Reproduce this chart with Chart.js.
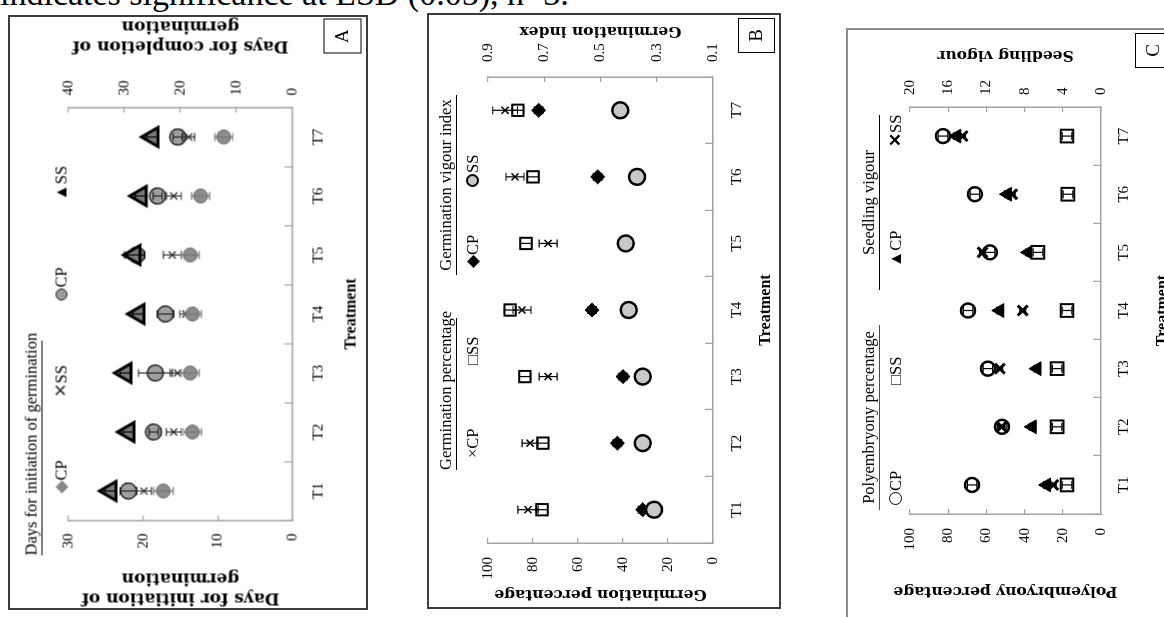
<!DOCTYPE html>
<html>
<head>
<meta charset="utf-8">
<script src="https://cdn.jsdelivr.net/npm/chart.js@4.4.1/dist/chart.umd.min.js"></script>
<style>
  html, body { margin: 0; padding: 0; background: #fff; overflow: hidden; }
  body { width: 1164px; height: 617px; position: relative; font-family: "Liberation Serif", serif; color: #000; }
  .note { position: absolute; left: 0; top: -23px; font-size: 34px; line-height: 34px; white-space: nowrap; }
  .panel { position: absolute; }
  .frame { position: absolute; left: 0; top: 0; right: 0; bottom: 0; border: 2px solid #3c3c3c; box-sizing: border-box; }
  .inner { position: absolute; transform: rotate(-90deg); }
  .inner canvas { position: absolute; left: 0; top: 0; }
  .grp { position: absolute; font-size: 16.5px; line-height: 20px; height: 20px; text-align: center; border-bottom: 1px solid #000; white-space: nowrap; }
  .key { position: absolute; font-size: 16.5px; line-height: 20px; white-space: nowrap; }
  .dot { display: inline-block; border-radius: 50%; box-sizing: border-box; vertical-align: -1px; margin-right: 1px; }
  .tag { position: absolute; border: 1.5px solid #000; box-sizing: border-box; font-size: 19px; text-align: center; line-height: 34px; }
</style>
</head>
<body>
<div class="note">indicates significance at LSD (0.05), n=3.</div>

<div class="panel" style="left:8px;top:15px;width:360px;height:595px;background:#fff">
  <div class="inner" style="width:595px;height:360px;left:-117.5px;top:117.5px">
    <canvas id="chartA" width="595" height="360"></canvas>
    <div class="grp" style="left:55px;top:13px;width:215px">Days for initiation of germination</div>
    <div class="key" style="left:117px;top:43px"><span style="color:#888">◆</span>CP</div>
    <div class="key" style="left:213px;top:43px"><span style="color:#333">✕</span>SS</div>
    <div class="key" style="left:310px;top:43px"><span class="dot" style="width:12px;height:12px;border:1.5px solid #222;background:#9a9a9a"></span>CP</div>
    <div class="key" style="left:410px;top:43px">▲SS</div>
    <div class="tag" style="left:557px;top:315px;width:35px;height:38px">A</div>
  </div>
  <div class="frame"></div>
</div>

<div class="panel" style="left:427px;top:13px;width:354px;height:596px;background:#fff">
  <div class="inner" style="width:596px;height:354px;left:-121px;top:121px">
    <canvas id="chartB" width="596" height="354"></canvas>
    <div class="grp" style="left:139px;top:9px;width:152px">Germination percentage</div>
    <div class="grp" style="left:334px;top:9px;width:180px">Germination vigour index</div>
    <div class="key" style="left:151px;top:36px">×CP</div>
    <div class="key" style="left:244px;top:36px">□SS</div>
    <div class="key" style="left:341px;top:36px">◆CP</div>
    <div class="key" style="left:422px;top:36px"><span class="dot" style="width:13px;height:13px;border:2px solid #000;background:#c8c8c8"></span>SS</div>
    <div class="tag" style="left:556px;top:311px;width:35px;height:37px">B</div>
  </div>
  <div class="frame"></div>
</div>

<div class="panel" style="left:846px;top:28px;width:339px;height:597px">
  <div class="inner" style="width:597px;height:339px;left:-129px;top:129px">
    <canvas id="chartC" width="597" height="339"></canvas>
    <div class="grp" style="left:115px;top:13px;width:185px;border-bottom-color:#b02020">Polyembryony percentage</div>
    <div class="grp" style="left:335px;top:13px;width:175px">Seedling vigour</div>
    <div class="key" style="left:120px;top:40px"><span class="dot" style="width:13px;height:13px;border:1.5px solid #000;background:#fff"></span>CP</div>
    <div class="key" style="left:240px;top:40px">□SS</div>
    <div class="key" style="left:358px;top:40px">▲CP</div>
    <div class="key" style="left:478px;top:40px"><b>✕</b>SS</div>
    <div class="tag" style="left:557px;top:289px;width:35px;height:38px">C</div>
  </div>
  <div class="frame" style="border-color:#8c8c8c"></div>
</div>

<script>
const treatments = ['T1', 'T2', 'T3', 'T4', 'T5', 'T6', 'T7'];

// A - days for initiation (bottom axis) and completion (top axis) of germination
const initiationTicks = [0, 10, 20, 30];
const completionTicks = [0, 10, 20, 30, 40];
const initiationCP = [17.3, 13.4, 13.7, 13.4, 13.7, 12.3, 9.2];
const initiationSS = [19.9, 15.9, 15.4, 14.3, 16.1, 15.9, 13.9];
const completionCP = [29.3, 24.8, 24.5, 22.7, 27.8, 24.1, 20.5];
const completionSS = [32.5, 29.3, 29.8, 27.5, 28.2, 27.1, 25.0];
const initiationCPErr = [1.3, 1.2, 1.2, 1.2, 1.2, 1.2, 1.2];
const initiationSSErr = [1.0, 1.0, 1.0, 0.8, 1.2, 1.0, 0.8];
const completionCPErr = [1.5, 0.8, 3.0, 1.5, 0.8, 0.8, 0.8];
const completionSSErr = [1.0, 1.0, 1.0, 1.0, 1.8, 1.0, 1.0];

// B - germination percentage (bottom axis) and germination index (top axis)
const percentTicks = [0, 20, 40, 60, 80, 100];
const indexTicks = [0.1, 0.3, 0.5, 0.7, 0.9];
const germPercentCP = [82.2, 81.3, 73.3, 84.9, 73.3, 88.0, 92.4];
const germPercentSS = [76.0, 75.6, 83.6, 90.2, 83.1, 80.0, 86.7];
const vigourIndexCP = [0.35, 0.44, 0.42, 0.53, 0.41, 0.51, 0.72];
const vigourIndexSS = [0.31, 0.35, 0.35, 0.40, 0.41, 0.37, 0.43];
const germPercentCPErr = [4.5, 3.5, 4.0, 4.0, 4.0, 4.0, 5.5];
const germPercentSSErr = [2.5, 2.5, 2.5, 2.5, 2.5, 2.5, 2.5];
const vigourIndexCPErr = [0.015, 0.015, 0.015, 0.015, 0.015, 0.015, 0.015];

// C - polyembryony percentage (bottom axis) and seedling vigour (top axis)
const polyTicks = [0, 20, 40, 60, 80, 100];
const seedlingTicks = [0, 4, 8, 12, 16, 20];
const polyCP = [67.5, 51.8, 59.2, 69.6, 58.1, 66.0, 82.7];
const polySS = [17.8, 23.0, 23.0, 17.8, 33.0, 17.3, 17.8];
const seedlingCP = [5.7, 7.2, 6.7, 10.6, 7.6, 9.8, 15.1];
const seedlingSS = [5.0, 10.4, 10.6, 8.2, 12.4, 9.3, 14.5];
const polyCPErr = [2.5, 2.5, 2.5, 2.5, 2.5, 2.5, 2.5];
const polySSErr = [2.5, 2.5, 2.5, 2.5, 2.5, 2.5, 2.5];
const seedlingCPErr = [0.3, 0.3, 0.3, 0.3, 0.3, 0.3, 0.3];
const seedlingSSErr = [0.3, 0.3, 0.3, 0.3, 0.3, 0.3, 0.3];

const axisGray = '#a3a3a3';
const serif = '"Liberation Serif", "Times New Roman", serif';
const tickFont = { family: serif, size: 15 };

// error bars with caps, drawn along the value axis right after each dataset
const errorBars = {
    id: 'errorBars',
    afterDatasetDraw(chart, args) {
        const ds = chart.data.datasets[args.index];
        if (!ds.errors) return;
        const yScale = chart.scales[ds.yAxisID];
        const ctx = chart.ctx;
        ctx.save();
        ctx.strokeStyle = ds.errorColor || '#000';
        ctx.lineWidth = 1.2;
        args.meta.data.forEach((pt, i) => {
            const e = ds.errors[i];
            if (!e) return;
            const hi = yScale.getPixelForValue(ds.data[i] + e);
            const lo = yScale.getPixelForValue(ds.data[i] - e);
            ctx.beginPath();
            ctx.moveTo(pt.x, hi); ctx.lineTo(pt.x, lo);
            ctx.moveTo(pt.x - 4, hi); ctx.lineTo(pt.x + 4, hi);
            ctx.moveTo(pt.x - 4, lo); ctx.lineTo(pt.x + 4, lo);
            ctx.stroke();
        });
        ctx.restore();
    }
};

// secondary axis title, turned the same way as the primary one
const sideTitle = {
    id: 'sideTitle',
    afterDraw(chart, args, opts) {
        const s = chart.scales[opts.axis];
        const ctx = chart.ctx;
        ctx.save();
        ctx.font = opts.font;
        ctx.fillStyle = '#000';
        ctx.textAlign = 'center';
        ctx.textBaseline = 'middle';
        opts.lines.forEach((line, i) => {
            ctx.save();
            ctx.translate(s.left + opts.gap + i * opts.lineHeight, (s.top + s.bottom) / 2);
            ctx.rotate(-Math.PI / 2);
            ctx.fillText(line, 0, 0);
            ctx.restore();
        });
        ctx.restore();
    }
};

function valueAxis(position, tickValues, width, tickPad) {
    return {
        type: 'linear',
        position: position,
        min: tickValues[0],
        max: tickValues[tickValues.length - 1],
        afterBuildTicks: scale => { scale.ticks = tickValues.map(v => ({ value: v })); },
        afterFit: scale => { scale.width = width; },
        grid: { drawOnChartArea: false, tickLength: -5, color: axisGray, lineWidth: 1.2 },
        border: { color: axisGray, width: 1.5 },
        ticks: { color: '#000', font: tickFont, padding: tickPad }
    };
}

function axisTitle(text, size, pad) {
    return {
        display: true,
        text: text,
        color: '#000',
        font: { family: '"DejaVu Serif", serif', size: size, weight: 'bold', lineHeight: 20 / size },
        padding: { top: pad, bottom: 0 }
    };
}

function treatmentAxis(height, tickPad, titlePad) {
    return {
        type: 'category',
        labels: treatments,
        offset: true,
        afterFit: scale => { scale.height = height; },
        grid: { offset: true, drawOnChartArea: false, tickLength: -8, color: axisGray, lineWidth: 1.2 },
        border: { color: axisGray, width: 1.5 },
        ticks: { color: '#000', font: tickFont, padding: tickPad, maxRotation: 0 },
        title: {
            display: true,
            text: 'Treatment',
            color: '#000',
            font: { family: serif, size: 16, weight: 'bold' },
            padding: { top: 0, bottom: titlePad }
        }
    };
}

function series(label, values, errors, axis, style) {
    return Object.assign({
        label: label,
        data: values,
        errors: errors,
        yAxisID: axis,
        showLine: false,
        clip: false,
        order: 1
    }, style);
}

function makeChart(id, datasets, scales, padTop, titleOpts) {
    new Chart(document.getElementById(id), {
        type: 'line',
        data: { labels: treatments, datasets: datasets },
        options: {
            responsive: false,
            animation: false,
            layout: { padding: { top: padTop, left: 0, right: 0, bottom: 0 } },
            scales: scales,
            plugins: {
                legend: { display: false },
                tooltip: { enabled: false },
                sideTitle: titleOpts
            }
        },
        plugins: [errorBars, sideTitle]
    });
}

function generatePanelA() {
    const y = valueAxis('left', initiationTicks, 90, 18);
    y.title = axisTitle(['Days for initiation of', 'germination'], 17, 3);
    makeChart('chartA', [
        series('Initiation CP', initiationCP, initiationCPErr, 'y', {
            pointStyle: 'circle', pointRadius: 7, pointBackgroundColor: '#8c8c8c',
            pointBorderColor: '#6a6a6a', pointBorderWidth: 1, errorColor: '#777'
        }),
        series('Initiation SS', initiationSS, initiationSSErr, 'y', {
            pointStyle: 'crossRot', pointRadius: 5, pointBorderColor: '#333',
            pointBorderWidth: 1.3, errorColor: '#333'
        }),
        series('Completion CP', completionCP, completionCPErr, 'y2', {
            pointStyle: 'circle', pointRadius: 8, pointBackgroundColor: '#a0a0a0',
            pointBorderColor: '#222', pointBorderWidth: 1.5, errorColor: '#222'
        }),
        series('Completion SS', completionSS, completionSSErr, 'y2', {
            pointStyle: 'triangle', pointRadius: 11, pointBackgroundColor: '#7a7a7a',
            pointBorderColor: '#000', pointBorderWidth: 3, errorColor: '#000', order: 0
        })
    ], {
        x: treatmentAxis(76, 25, 8),
        y: y,
        y2: valueAxis('right', completionTicks, 92, 17)
    }, 60, {
        axis: 'y2', lines: ['Days for completion of', 'germination'],
        gap: 62, lineHeight: 20, font: 'bold 17px "DejaVu Serif"'
    });
}

function generatePanelB() {
    const y = valueAxis('left', percentTicks, 66, 19);
    y.title = axisTitle('Germination percentage', 15.5, 5);
    makeChart('chartB', [
        series('Germination percentage CP', germPercentCP, germPercentCPErr, 'y', {
            pointStyle: 'crossRot', pointRadius: 5, pointBorderColor: '#000', pointBorderWidth: 1.5
        }),
        series('Germination percentage SS', germPercentSS, germPercentSSErr, 'y', {
            pointStyle: 'rect', pointRadius: 8, pointBackgroundColor: '#fff',
            pointBorderColor: '#000', pointBorderWidth: 2
        }),
        series('Germination vigour index CP', vigourIndexCP, vigourIndexCPErr, 'y2', {
            pointStyle: 'rectRot', pointRadius: 7, pointBackgroundColor: '#000', pointBorderColor: '#000'
        }),
        series('Germination vigour index SS', vigourIndexSS, null, 'y2', {
            pointStyle: 'circle', pointRadius: 8, pointBackgroundColor: '#c8c8c8',
            pointBorderColor: '#000', pointBorderWidth: 2.5, order: 0
        })
    ], {
        x: treatmentAxis(68, 23, 6),
        y: y,
        y2: valueAxis('right', indexTicks, 64, 20)
    }, 61, {
        axis: 'y2', lines: ['Germination index'],
        gap: 46, lineHeight: 20, font: 'bold 15.5px "DejaVu Serif"'
    });
}

function generatePanelC() {
    const y = valueAxis('left', polyTicks, 111, 19);
    y.title = axisTitle('Polyembryony percentage', 15.5, 24);
    makeChart('chartC', [
        series('Polyembryony percentage CP', polyCP, polyCPErr, 'y', {
            pointStyle: 'circle', pointRadius: 7, pointBackgroundColor: '#fff',
            pointBorderColor: '#000', pointBorderWidth: 2.5
        }),
        series('Polyembryony percentage SS', polySS, polySSErr, 'y', {
            pointStyle: 'rect', pointRadius: 9, pointBackgroundColor: '#fff',
            pointBorderColor: '#000', pointBorderWidth: 2
        }),
        series('Seedling vigour CP', seedlingCP, seedlingCPErr, 'y2', {
            pointStyle: 'triangle', pointRadius: 8, pointBackgroundColor: '#000', pointBorderColor: '#000'
        }),
        series('Seedling vigour SS', seedlingSS, seedlingSSErr, 'y2', {
            pointStyle: 'crossRot', pointRadius: 7, pointBorderColor: '#000',
            pointBorderWidth: 3, order: 0
        })
    ], {
        x: treatmentAxis(84, 22, 13),
        y: y,
        y2: valueAxis('right', seedlingTicks, 79, 17)
    }, 64, {
        axis: 'y2', lines: ['Seedling vigour'],
        gap: 52, lineHeight: 20, font: 'bold 15.5px "DejaVu Serif"'
    });
}

generatePanelA();
generatePanelB();
generatePanelC();
</script>
</body>
</html>
